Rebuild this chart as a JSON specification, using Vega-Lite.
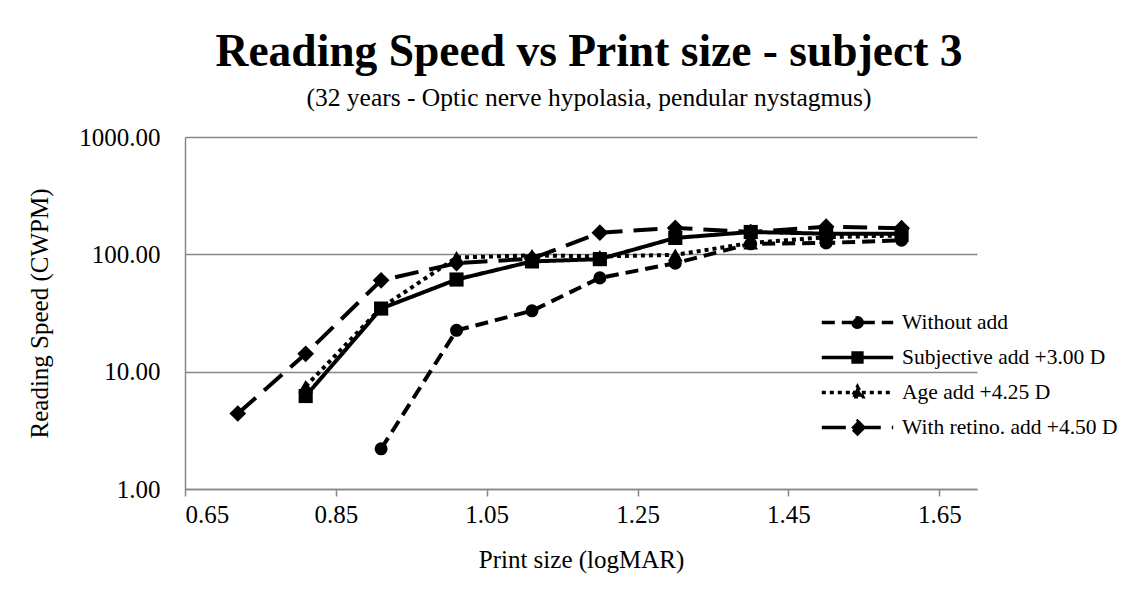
{
  "$schema": "https://vega.github.io/schema/vega-lite/v6.json",
  "autosize": "none",
  "width": 792,
  "height": 352,
  "padding": {"left": 185, "top": 137, "right": 160, "bottom": 111},
  "background": "white",
  "title": {
    "text": "Reading Speed vs Print size - subject 3",
    "subtitle": "(32 years - Optic nerve hypolasia, pendular nystagmus)",
    "font": "Liberation Serif",
    "fontSize": 45.5,
    "fontWeight": "bold",
    "color": "black",
    "subtitleFont": "Liberation Serif",
    "subtitleFontSize": 25.5,
    "subtitleColor": "black",
    "subtitlePadding": 10,
    "anchor": "middle",
    "frame": "group",
    "offset": 14,
    "dx": 8
  },
  "data": {
    "values": [
      {"series": "Without add", "x": 0.91, "y": 2.2},
      {"series": "Without add", "x": 1.01, "y": 22.5},
      {"series": "Without add", "x": 1.11, "y": 33},
      {"series": "Without add", "x": 1.20, "y": 63},
      {"series": "Without add", "x": 1.30, "y": 84},
      {"series": "Without add", "x": 1.40, "y": 123},
      {"series": "Without add", "x": 1.50, "y": 125},
      {"series": "Without add", "x": 1.60, "y": 132},
      {"series": "Subjective add +3.00 D", "x": 0.81, "y": 6.2},
      {"series": "Subjective add +3.00 D", "x": 0.91, "y": 34.5},
      {"series": "Subjective add +3.00 D", "x": 1.01, "y": 61},
      {"series": "Subjective add +3.00 D", "x": 1.11, "y": 87},
      {"series": "Subjective add +3.00 D", "x": 1.20, "y": 91},
      {"series": "Subjective add +3.00 D", "x": 1.30, "y": 138},
      {"series": "Subjective add +3.00 D", "x": 1.40, "y": 155},
      {"series": "Subjective add +3.00 D", "x": 1.50, "y": 150},
      {"series": "Subjective add +3.00 D", "x": 1.60, "y": 150},
      {"series": "Age add +4.25 D", "x": 0.81, "y": 7.5},
      {"series": "Age add +4.25 D", "x": 0.91, "y": 35},
      {"series": "Age add +4.25 D", "x": 1.01, "y": 94},
      {"series": "Age add +4.25 D", "x": 1.11, "y": 98},
      {"series": "Age add +4.25 D", "x": 1.20, "y": 96},
      {"series": "Age add +4.25 D", "x": 1.30, "y": 99},
      {"series": "Age add +4.25 D", "x": 1.40, "y": 125},
      {"series": "Age add +4.25 D", "x": 1.50, "y": 140},
      {"series": "Age add +4.25 D", "x": 1.60, "y": 145},
      {"series": "With retino. add +4.50 D", "x": 0.72, "y": 4.4},
      {"series": "With retino. add +4.50 D", "x": 0.81, "y": 14.2},
      {"series": "With retino. add +4.50 D", "x": 0.91, "y": 60},
      {"series": "With retino. add +4.50 D", "x": 1.01, "y": 84},
      {"series": "With retino. add +4.50 D", "x": 1.11, "y": 92},
      {"series": "With retino. add +4.50 D", "x": 1.20, "y": 153},
      {"series": "With retino. add +4.50 D", "x": 1.30, "y": 168},
      {"series": "With retino. add +4.50 D", "x": 1.40, "y": 155},
      {"series": "With retino. add +4.50 D", "x": 1.50, "y": 172},
      {"series": "With retino. add +4.50 D", "x": 1.60, "y": 167}
    ]
  },
  "encoding": {
    "x": {
      "field": "x",
      "type": "quantitative",
      "scale": {"domain": [0.65, 1.7], "nice": false, "zero": false},
      "axis": {
        "values": [0.65, 0.85, 1.05, 1.25, 1.45, 1.65],
        "format": ".2f",
        "title": "Print size (logMAR)",
        "grid": false,
        "ticks": true,
        "tickSize": 7,
        "tickColor": "#878787",
        "tickWidth": 1.5,
        "domainColor": "#878787",
        "domainWidth": 1.5,
        "labelFont": "Liberation Serif",
        "labelFontSize": 25,
        "labelColor": "black",
        "labelPadding": 6,
        "titleFont": "Liberation Serif",
        "titleFontSize": 25,
        "titleFontWeight": "normal",
        "titleColor": "black",
        "titlePadding": 20
      }
    },
    "y": {
      "field": "y",
      "type": "quantitative",
      "scale": {"type": "log", "domain": [1, 1000], "nice": false},
      "axis": {
        "values": [1, 10, 100, 1000],
        "format": ".2f",
        "title": "Reading Speed (CWPM)",
        "grid": true,
        "gridColor": "#878787",
        "gridWidth": 1.5,
        "ticks": false,
        "domainColor": "#878787",
        "domainWidth": 1.5,
        "labelFont": "Liberation Serif",
        "labelFontSize": 25,
        "labelColor": "black",
        "labelPadding": 25,
        "titleFont": "Liberation Serif",
        "titleFontSize": 25,
        "titleFontWeight": "normal",
        "titleColor": "black",
        "titlePadding": 26
      }
    }
  },
  "layer": [
    {
      "mark": {"type": "line", "color": "black", "strokeWidth": 4, "strokeCap": "butt"},
      "encoding": {
        "strokeDash": {
          "field": "series",
          "type": "nominal",
          "sort": ["Without add", "Subjective add +3.00 D", "Age add +4.25 D", "With retino. add +4.50 D"],
          "scale": {
            "domain": ["Without add", "Subjective add +3.00 D", "Age add +4.25 D", "With retino. add +4.50 D"],
            "range": [[13, 7], [1, 0], [4, 4], [24, 11]]
          },
          "legend": {
            "orient": "none",
            "legendX": 660,
            "legendY": 173,
            "title": null,
            "labelFont": "Liberation Serif",
            "labelFontSize": 21.5,
            "labelColor": "black",
            "labelLimit": 400,
            "symbolSize": 441,
            "rowPadding": 10,
            "labelOffset": 32,
            "symbolStrokeWidth": 3.5,
            "symbolStrokeColor": "black",
            "symbolFillColor": "black",
            "encode": {
              "symbols": {
                "update": {
                  "shape": {"signal": "datum.value === 'Without add' ? 'M-3.4,0L3.4,0M0.45,0A0.45,0.45,0,1,1,-0.45,0A0.45,0.45,0,1,1,0.45,0Z' : datum.value === 'Subjective add +3.00 D' ? 'M-3.4,0L3.4,0M-0.42,-0.42L0.42,-0.42L0.42,0.42L-0.42,0.42Z' : datum.value === 'Age add +4.25 D' ? 'M-3.4,0L3.4,0M0,-0.55L0.5,0.4L-0.5,0.4Z' : 'M-3.4,0L3.4,0M0,-0.6L0.6,0L0,0.6L-0.6,0Z'"},
                  "fill": {"value": "black"},
                  "stroke": {"value": "black"},
                  "strokeWidth": {"value": 3.5}
                }
              }
            }
          }
        },
        "detail": {"field": "series", "type": "nominal"}
      }
    },
    {
      "transform": [{"filter": "datum.series === 'Without add'"}],
      "mark": {"type": "point", "shape": "circle", "filled": true, "color": "black", "opacity": 1, "size": 170}
    },
    {
      "transform": [{"filter": "datum.series === 'Subjective add +3.00 D'"}],
      "mark": {"type": "point", "shape": "square", "filled": true, "color": "black", "opacity": 1, "size": 200}
    },
    {
      "transform": [{"filter": "datum.series === 'Age add +4.25 D'"}],
      "mark": {"type": "point", "shape": "triangle-up", "filled": true, "color": "black", "opacity": 1, "size": 220}
    },
    {
      "transform": [{"filter": "datum.series === 'With retino. add +4.50 D'"}],
      "mark": {"type": "point", "shape": "diamond", "filled": true, "color": "black", "opacity": 1, "size": 280}
    }
  ],
  "config": {
    "view": {"stroke": null}
  }
}
